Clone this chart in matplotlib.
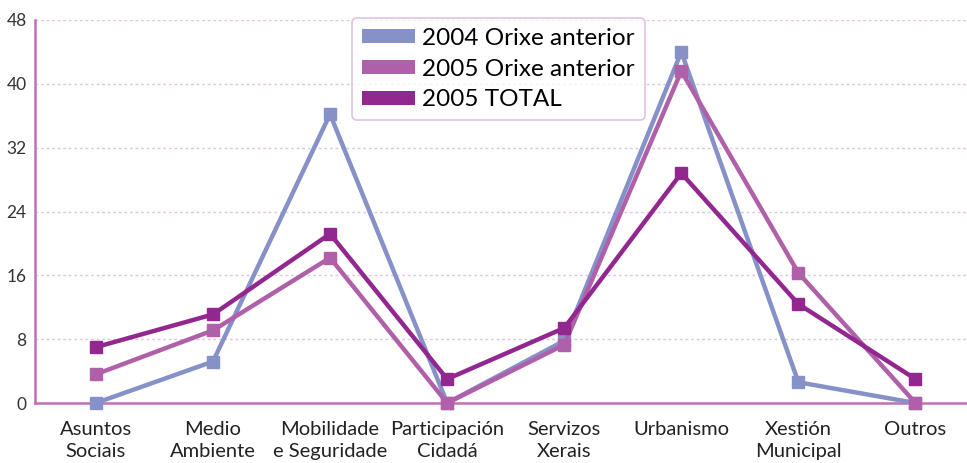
import matplotlib
matplotlib.use("Agg")
import matplotlib.pyplot as plt
from matplotlib.patches import Patch
import numpy as np

plt.rcParams['font.family'] = ['Lato', 'DejaVu Sans']

categorias = ["Asuntos\nSociais", "Medio\nAmbiente", "Mobilidade\ne Seguridade",
              "Participación\nCidadá", "Servizos\nXerais", "Urbanismo",
              "Xestión\nMunicipal", "Outros"]
orixe_2004 = [0, 5.2, 36.2, 0, 7.8, 44, 2.6, 0]
orixe_2005 = [3.6, 9.1, 18.2, 0, 7.3, 41.6, 16.3, 0]
total_2005 = [7.0, 11.1, 21.2, 3.0, 9.4, 28.8, 12.4, 3.0]
yticks = [0, 8, 16, 24, 32, 40, 48]

blue = "#8691c8"
pink = "#b060a8"
purple = "#92278f"
spine_col = "#c070b4"

fig = plt.figure(figsize=(9.67, 4.63), dpi=100)
ax = fig.add_axes([35 / 967, 1 - 403 / 463, 1 - 35 / 967, 383 / 463])

x = np.arange(len(categorias))
series = [(orixe_2004, blue, "2004 Orixe anterior"),
          (orixe_2005, pink, "2005 Orixe anterior"),
          (total_2005, purple, "2005 TOTAL")]
for vals, col, lab in series:
    ax.plot(x, vals, color=col, linewidth=3.2, marker="s", markersize=8,
            label=lab, clip_on=False, zorder=3)

ax.set_xlim(-0.52, 7.44)
ax.set_ylim(0, 48)
ax.set_yticks(yticks)
ax.set_xticks(x)
ax.set_xticklabels(categorias, fontsize=14.5, color="#222222", va="top")
for t in ax.get_xticklabels():
    t.set_linespacing(1.35)
ax.tick_params(axis="y", length=0, labelsize=12.5, pad=6, colors="#333333")
ax.tick_params(axis="x", length=0, pad=13)
ax.yaxis.grid(True, linestyle=(0, (2, 2)), color="#e4c4e4", linewidth=1)
ax.set_axisbelow(True)

for s in ["top", "right"]:
    ax.spines[s].set_visible(False)
for s in ["left", "bottom"]:
    ax.spines[s].set_color(spine_col)
    ax.spines[s].set_linewidth(1.8)

handles = [Patch(facecolor=c, edgecolor="none", label=l) for _, c, l in series]
leg = ax.legend(handles=handles, loc="upper left", bbox_to_anchor=(317 / 932, 1.005),
                fontsize=17.5, frameon=True, fancybox=True, handlelength=2.2,
                handleheight=0.5, handletextpad=0.3, labelspacing=0.4,
                borderpad=0.4, borderaxespad=0.0)
leg.get_frame().set_edgecolor("#d8b4d8")
leg.get_frame().set_linewidth(1.2)

fig.savefig("out.png", dpi=100)
